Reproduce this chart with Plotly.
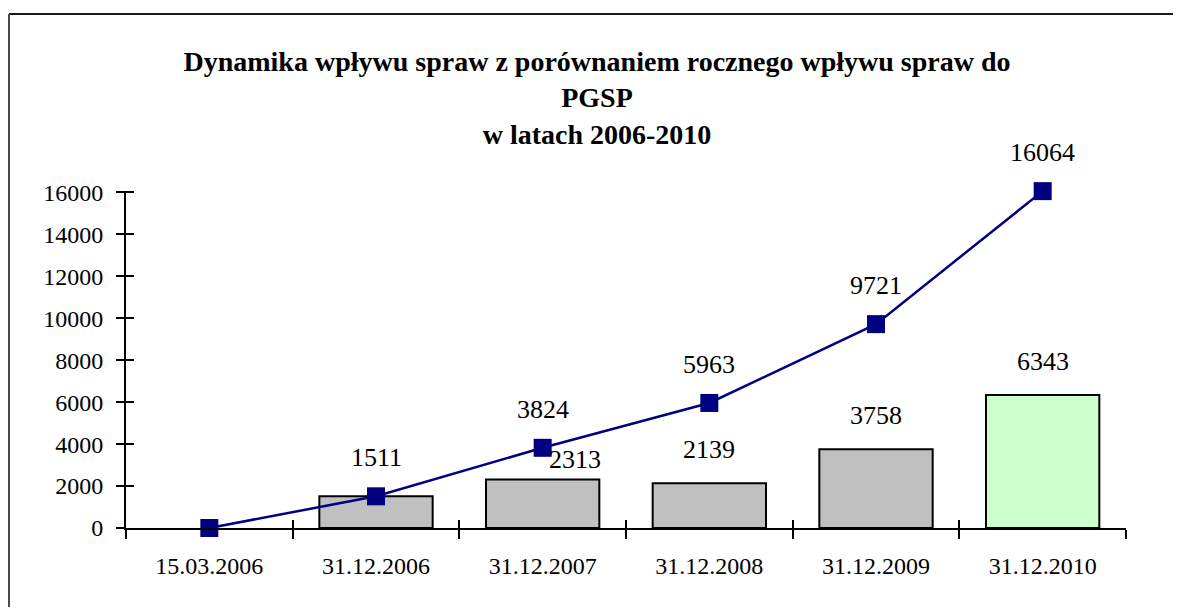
import plotly.graph_objects as go

# dates (categories) and values
dates = ["15.03.2006", "31.12.2006", "31.12.2007", "31.12.2008", "31.12.2009", "31.12.2010"]
yearly_intake = [None, 1511, 2313, 2139, 3758, 6343]   # bars - roczny wplyw
cumulative = [0, 1511, 3824, 5963, 9721, 16064]        # line - dynamika wplywu
y_ticks = [0, 2000, 4000, 6000, 8000, 10000, 12000, 14000, 16000]

FONT = "Liberation Serif"
bar_colors = ["#C0C0C0"] * 5 + ["#CCFFCC"]
Y_RANGE = [0, 16070]

# page body has an 8px margin; keep the figure small enough that no scrollbar shows
W, H = 1165, 599
L, T, PW, PH = 118, 183, 1000, 337   # plot area in figure pixels

fig = go.Figure()

fig.add_trace(go.Bar(
    x=dates,
    y=yearly_intake,
    marker=dict(color=bar_colors, line=dict(color="black", width=2)),
    width=0.68,
    xaxis="x", yaxis="y",
    showlegend=False,
))

# line on the overlay axes so it is drawn above the bars
fig.add_trace(go.Scatter(
    x=dates,
    y=cumulative,
    mode="lines+markers",
    line=dict(color="#000080", width=2.5),
    marker=dict(symbol="square", size=18, color="#000080"),
    cliponaxis=False,
    xaxis="x2", yaxis="y2",
    showlegend=False,
))

# value labels
annotations = []
for d, v in zip(dates, cumulative):
    if v == 0:
        continue
    annotations.append(dict(x=d, y=v, xref="x", yref="y", text=str(v), showarrow=False,
                            yanchor="bottom", yshift=22, font=dict(family=FONT, size=26, color="black")))
for i, (d, v) in enumerate(zip(dates, yearly_intake)):
    if v is None or v == cumulative[i]:
        continue  # label shared with the line point
    xs = 32 if d == "31.12.2007" else 0
    ys = 3 if d == "31.12.2007" else 17
    annotations.append(dict(x=d, y=v, xref="x", yref="y", text=str(v), showarrow=False,
                            yanchor="bottom", xshift=xs, yshift=ys,
                            font=dict(family=FONT, size=26, color="black")))

# chart-area frame: only the top and left edges are inside the picture
frame_top = 1 + (T - 6) / PH
frame_left = -(L - 1) / PW
frame_right = (W - L) / PW
frame_bottom = -(H - T - PH) / PH

fig.update_layout(
    width=W, height=H,
    plot_bgcolor="white", paper_bgcolor="white",
    font=dict(family=FONT, color="black"),
    title=dict(
        text="<b>Dynamika wpływu spraw z porównaniem rocznego wpływu spraw do<br>PGSP<br>w latach 2006-2010</b>",
        x=589 / W, xref="container", xanchor="center",
        y=1 - 63 / H, yref="container", yanchor="top",
        font=dict(family=FONT, size=28, color="black"),
    ),
    margin=dict(l=L, r=W - L - PW, t=T, b=H - T - PH),
    bargap=0.32,
    xaxis=dict(
        type="category", categoryarray=dates, range=[-0.5, 5.5],
        showline=True, linecolor="black", linewidth=2,
        ticks="outside", tickson="boundaries", ticklen=9, tickwidth=2, tickcolor="black",
        ticklabelstandoff=15,
        tickfont=dict(family=FONT, size=24, color="black"),
        showgrid=False, zeroline=False, automargin=False,
    ),
    yaxis=dict(
        range=Y_RANGE, tickvals=y_ticks, tickformat="d",
        showline=True, linecolor="black", linewidth=2,
        ticks="outside", ticklen=8, tickwidth=2, tickcolor="black",
        ticklabelstandoff=8,
        tickfont=dict(family=FONT, size=24, color="black"),
        showgrid=False, zeroline=False, automargin=False,
    ),
    # overlay axes give the inside half of the crossing tick marks
    xaxis2=dict(
        type="category", categoryarray=dates, range=[-0.5, 5.5], overlaying="x",
        ticks="inside", tickson="boundaries", ticklen=8, tickwidth=2, tickcolor="black",
        showticklabels=False, showline=False, showgrid=False, zeroline=False, automargin=False,
    ),
    yaxis2=dict(
        range=Y_RANGE, tickvals=y_ticks, overlaying="y", side="left",
        ticks="inside", ticklen=8, tickwidth=2, tickcolor="black",
        showticklabels=False, showline=False, showgrid=False, zeroline=False, automargin=False,
    ),
    annotations=annotations,
    shapes=[
        dict(type="line", xref="paper", yref="paper", x0=frame_left, x1=frame_right, y0=frame_top, y1=frame_top,
             line=dict(color="#1a1a1a", width=2), layer="below"),
        dict(type="line", xref="paper", yref="paper", x0=frame_left, x1=frame_left, y0=frame_bottom, y1=frame_top,
             line=dict(color="#4a4a4a", width=2), layer="below"),
    ],
)

fig.write_html("out.html")
